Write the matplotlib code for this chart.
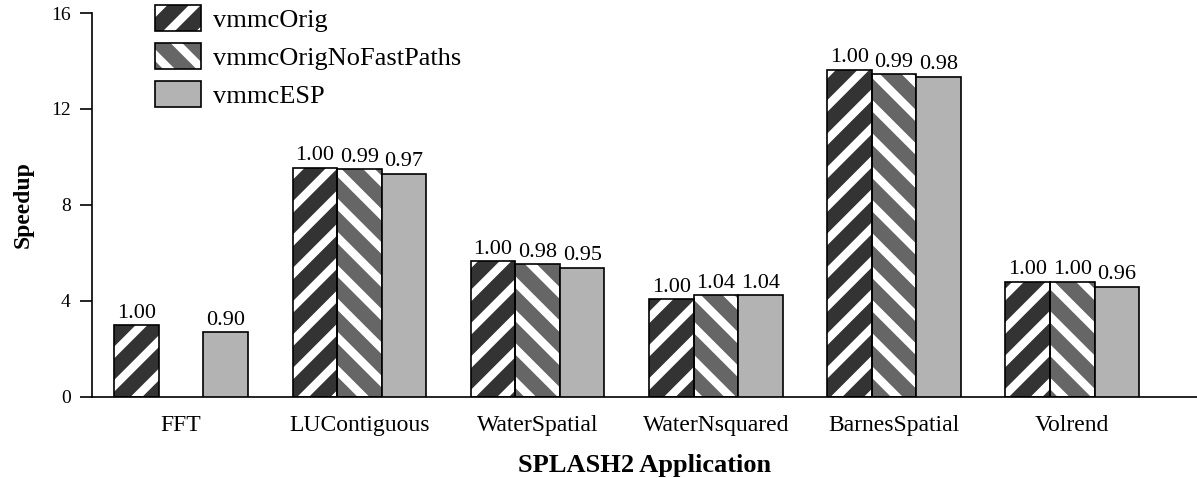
import numpy as np
import matplotlib
matplotlib.use("Agg")
import matplotlib.pyplot as plt
from matplotlib.patches import Patch
from matplotlib.legend_handler import HandlerTuple

plt.rcParams["font.family"] = ["Liberation Serif", "DejaVu Serif"]
plt.rcParams["hatch.linewidth"] = 6.0

apps = ["FFT", "LUContiguous", "WaterSpatial", "WaterNsquared", "BarnesSpatial", "Volrend"]
series = ["vmmcOrig", "vmmcOrigNoFastPaths", "vmmcESP"]
orig = [3.0, 9.55, 5.67, 4.07, 13.63, 4.8]
nofast = [np.nan, 9.48, 5.54, 4.25, 13.46, 4.8]
esp = [2.7, 9.3, 5.39, 4.25, 13.35, 4.6]
orig_lbl = ["1.00", "1.00", "1.00", "1.00", "1.00", "1.00"]
nofast_lbl = ["", "0.99", "0.98", "1.04", "0.99", "1.00"]
esp_lbl = ["0.90", "0.97", "0.95", "1.04", "0.98", "0.96"]

faces = ["#333333", "#666666", "#b3b3b3"]
hatches = ["/", "\\", None]

fig = plt.figure(figsize=(11.97, 4.78), dpi=100)
ax = fig.add_axes([0.0769, 0.1695, 0.9231, 0.8033])

x = np.arange(len(apps))
w = 0.25
handles = []
for k, (vals, lbls) in enumerate([(orig, orig_lbl), (nofast, nofast_lbl), (esp, esp_lbl)]):
    pos = x + (k - 1) * w
    vals = np.array(vals, dtype=float)
    ok = ~np.isnan(vals)
    if hatches[k]:
        # white stripes on dark face, then black outline on top
        ax.bar(pos[ok], vals[ok], w, color=faces[k], edgecolor="white",
               hatch=hatches[k], linewidth=0, zorder=2)
        ax.bar(pos[ok], vals[ok], w, fill=False, edgecolor="black",
               linewidth=1.2, zorder=3)
        h = (Patch(facecolor=faces[k], edgecolor="white", hatch=hatches[k], linewidth=0),
             Patch(fill=False, edgecolor="black", linewidth=1.2))
    else:
        ax.bar(pos[ok], vals[ok], w, color=faces[k], edgecolor="black",
               linewidth=1.2, zorder=3)
        h = Patch(facecolor=faces[k], edgecolor="black", linewidth=1.2)
    handles.append(h)
    for p, v, t in zip(pos, vals, lbls):
        if t and not np.isnan(v):
            ax.text(p, v + 0.1, t, ha="center", va="bottom", fontsize=16)

ax.set_xlim(-0.5, 5.7)
ax.set_ylim(0, 16)
ax.set_yticks([0, 4, 8, 12, 16])
ax.set_xticks(x)
ax.set_xticklabels(apps, fontsize=17)
ax.tick_params(axis="y", labelsize=14, length=8.5, width=1.2, pad=7)
ax.tick_params(axis="x", length=0, pad=13)
for s in ["top", "right"]:
    ax.spines[s].set_visible(False)
ax.spines["left"].set_linewidth(1.2)
ax.spines["bottom"].set_linewidth(1.2)

ax.set_xlabel("SPLASH2 Application", fontsize=19, fontweight="bold", labelpad=13)
ax.set_ylabel("Speedup", fontsize=17, fontweight="bold", labelpad=12)

ax.legend(handles, series, loc="upper left", bbox_to_anchor=(0.057, 1.022),
          frameon=False, fontsize=19, handlelength=1.75, handleheight=1.15,
          labelspacing=0.42, handletextpad=0.45, borderpad=0, borderaxespad=0,
          handler_map={tuple: HandlerTuple(ndivide=1)})

fig.savefig("out.png", dpi=100)
